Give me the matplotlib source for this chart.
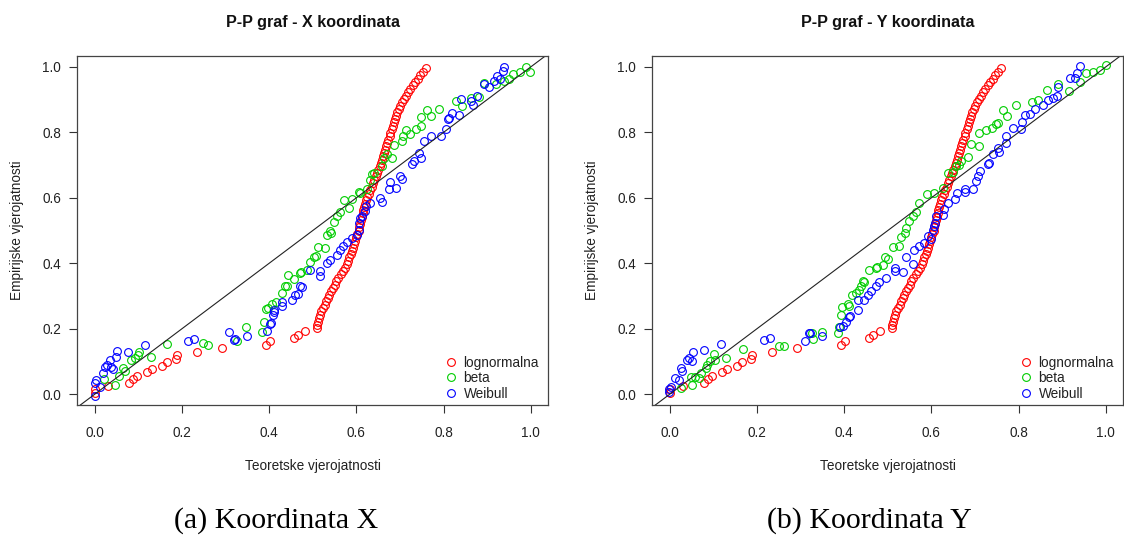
"""P-P grafovi za X i Y koordinatu: lognormalna, beta i Weibull prilagodba.

Two R-style panels side by side (open circles, y = x reference line, legend
without a frame) with LaTeX-like subfigure captions underneath. Every point is
a (teoretska, empirijska) pair read off the reference picture.
"""
import matplotlib

matplotlib.use("Agg")  # headless, file output only
import matplotlib.pyplot as plt  # noqa: E402

# ---- Koordinata X -----------------------------------------------------------
KX_LOGNORM_TEOR = [
    0.000, 0.000, 0.031, 0.079, 0.087, 0.098, 0.119, 0.131, 0.155, 0.165,
    0.186, 0.188, 0.235, 0.292, 0.392, 0.403, 0.457, 0.467, 0.483,
    0.509, 0.510, 0.512, 0.514, 0.516, 0.519, 0.523, 0.527, 0.530, 0.534,
    0.538, 0.542, 0.546, 0.550, 0.553, 0.558, 0.564, 0.569, 0.574, 0.578,
    0.581, 0.584, 0.587, 0.589, 0.592, 0.595, 0.597, 0.600, 0.602, 0.605,
    0.606, 0.608, 0.610, 0.612, 0.614, 0.616, 0.618, 0.620, 0.622, 0.625,
    0.628, 0.632, 0.635, 0.638, 0.641, 0.645, 0.648, 0.650, 0.653, 0.656,
    0.658, 0.661, 0.663, 0.666, 0.668, 0.671, 0.673, 0.676, 0.678, 0.681,
    0.683, 0.686, 0.689, 0.691, 0.694, 0.697, 0.701, 0.705, 0.709, 0.714,
    0.719, 0.724, 0.729, 0.735, 0.741, 0.746, 0.753, 0.760,
]
KX_LOGNORM_EMP = [
    0.005, 0.015, 0.025, 0.035, 0.046, 0.056, 0.067, 0.077, 0.087, 0.098,
    0.109, 0.120, 0.130, 0.141, 0.151, 0.162, 0.171, 0.182, 0.192,
    0.201, 0.211, 0.222, 0.232, 0.242, 0.253, 0.263, 0.273, 0.284, 0.294,
    0.304, 0.314, 0.325, 0.335, 0.345, 0.356, 0.366, 0.376, 0.387, 0.397,
    0.407, 0.418, 0.428, 0.438, 0.448, 0.459, 0.469, 0.479, 0.490, 0.500,
    0.510, 0.521, 0.531, 0.541, 0.552, 0.562, 0.572, 0.582, 0.593, 0.603,
    0.613, 0.624, 0.634, 0.644, 0.655, 0.665, 0.675, 0.686, 0.696, 0.706,
    0.716, 0.727, 0.737, 0.747, 0.758, 0.768, 0.778, 0.789, 0.799, 0.809,
    0.820, 0.830, 0.840, 0.851, 0.861, 0.871, 0.881, 0.892, 0.902, 0.912,
    0.923, 0.933, 0.943, 0.954, 0.964, 0.974, 0.985, 0.995,
]
KX_BETA_TEOR = [
    0.022, 0.046, 0.056, 0.065, 0.069, 0.084, 0.092, 0.100, 0.102, 0.129,
    0.166, 0.248, 0.259, 0.327, 0.347, 0.383, 0.387, 0.393, 0.397, 0.406,
    0.416, 0.429, 0.437, 0.441, 0.444, 0.456, 0.471, 0.474, 0.487, 0.494,
    0.502, 0.508, 0.513, 0.529, 0.533, 0.540, 0.542, 0.548, 0.556, 0.563,
    0.571, 0.582, 0.590, 0.605, 0.609, 0.624, 0.632, 0.636, 0.640, 0.659,
    0.663, 0.671, 0.682, 0.686, 0.705, 0.707, 0.713, 0.724, 0.736, 0.747,
    0.749, 0.762, 0.770, 0.789, 0.828, 0.843, 0.862, 0.881, 0.893, 0.920,
    0.939, 0.950, 0.958, 0.975, 0.990, 0.998,
]
KX_BETA_EMP = [
    0.046, 0.028, 0.056, 0.079, 0.072, 0.105, 0.110, 0.120, 0.130, 0.113,
    0.154, 0.156, 0.149, 0.164, 0.206, 0.189, 0.222, 0.260, 0.262, 0.274,
    0.283, 0.309, 0.329, 0.331, 0.365, 0.351, 0.370, 0.374, 0.380, 0.405,
    0.420, 0.423, 0.451, 0.446, 0.487, 0.497, 0.492, 0.527, 0.543, 0.558,
    0.594, 0.568, 0.596, 0.619, 0.616, 0.626, 0.655, 0.672, 0.675, 0.697,
    0.723, 0.733, 0.723, 0.761, 0.774, 0.789, 0.808, 0.794, 0.811, 0.820,
    0.848, 0.869, 0.850, 0.871, 0.896, 0.881, 0.906, 0.909, 0.950, 0.947,
    0.957, 0.962, 0.978, 0.985, 1.000, 0.985,
]
KX_WEIBULL_TEOR = [
    0.000, 0.000, 0.004, 0.013, 0.018, 0.023, 0.028, 0.036, 0.038, 0.042,
    0.048, 0.050, 0.077, 0.115, 0.213, 0.228, 0.308, 0.320, 0.322, 0.349,
    0.396, 0.402, 0.405, 0.408, 0.410, 0.412, 0.429, 0.429, 0.452, 0.460,
    0.465, 0.471, 0.476, 0.494, 0.516, 0.516, 0.533, 0.540, 0.556, 0.563,
    0.570, 0.579, 0.590, 0.602, 0.605, 0.605, 0.609, 0.612, 0.620, 0.622,
    0.632, 0.654, 0.659, 0.674, 0.678, 0.690, 0.701, 0.705, 0.728, 0.732,
    0.743, 0.749, 0.755, 0.770, 0.793, 0.805, 0.809, 0.813, 0.820, 0.835,
    0.839, 0.862, 0.868, 0.877, 0.893, 0.904, 0.916, 0.923, 0.929, 0.935,
    0.939,
]
KX_WEIBULL_EMP = [
    -0.005, 0.034, 0.042, 0.023, 0.066, 0.084, 0.088, 0.105, 0.082, 0.077,
    0.113, 0.132, 0.130, 0.151, 0.164, 0.169, 0.189, 0.166, 0.168, 0.179,
    0.194, 0.215, 0.218, 0.242, 0.258, 0.252, 0.270, 0.283, 0.288, 0.303,
    0.305, 0.331, 0.327, 0.378, 0.375, 0.361, 0.400, 0.410, 0.426, 0.441,
    0.452, 0.466, 0.477, 0.487, 0.502, 0.522, 0.538, 0.545, 0.560, 0.575,
    0.584, 0.599, 0.588, 0.626, 0.647, 0.631, 0.667, 0.657, 0.703, 0.712,
    0.738, 0.723, 0.774, 0.789, 0.789, 0.810, 0.840, 0.843, 0.860, 0.852,
    0.901, 0.896, 0.883, 0.911, 0.947, 0.937, 0.957, 0.972, 0.962, 0.988,
    0.998,
]

# ---- Koordinata Y -----------------------------------------------------------
# the lognormal points read the same in both panels
KY_LOGNORM_TEOR = list(KX_LOGNORM_TEOR)
KY_LOGNORM_EMP = list(KX_LOGNORM_EMP)
KY_BETA_TEOR = [
    0.025, 0.051, 0.048, 0.059, 0.067, 0.071, 0.082, 0.086, 0.092, 0.101,
    0.103, 0.130, 0.168, 0.251, 0.261, 0.327, 0.329, 0.350, 0.385, 0.389,
    0.392, 0.396, 0.408, 0.412, 0.419, 0.427, 0.433, 0.438, 0.444, 0.446,
    0.456, 0.473, 0.476, 0.488, 0.494, 0.500, 0.513, 0.526, 0.530, 0.540,
    0.542, 0.549, 0.557, 0.565, 0.572, 0.589, 0.607, 0.626, 0.637, 0.649,
    0.657, 0.664, 0.668, 0.683, 0.691, 0.709, 0.710, 0.726, 0.740, 0.749,
    0.752, 0.764, 0.773, 0.793, 0.831, 0.844, 0.864, 0.890, 0.916, 0.940,
    0.954, 0.970, 0.986, 1.000,
]
KY_BETA_EMP = [
    0.018, 0.028, 0.052, 0.052, 0.049, 0.064, 0.079, 0.090, 0.100, 0.122,
    0.103, 0.110, 0.139, 0.146, 0.148, 0.188, 0.168, 0.190, 0.187, 0.205,
    0.242, 0.265, 0.275, 0.268, 0.303, 0.309, 0.319, 0.329, 0.347, 0.343,
    0.380, 0.385, 0.388, 0.395, 0.419, 0.412, 0.449, 0.453, 0.480, 0.492,
    0.507, 0.530, 0.545, 0.558, 0.585, 0.611, 0.616, 0.631, 0.677, 0.680,
    0.698, 0.700, 0.713, 0.726, 0.764, 0.759, 0.797, 0.807, 0.812, 0.825,
    0.828, 0.869, 0.850, 0.883, 0.893, 0.899, 0.929, 0.947, 0.926, 0.955,
    0.982, 0.985, 0.990, 1.005,
]
KY_WEIBULL_TEOR = [
    -0.001, -0.002, 0.002, 0.013, 0.021, 0.025, 0.028, 0.040, 0.044, 0.050,
    0.053, 0.078, 0.117, 0.215, 0.230, 0.310, 0.320, 0.322, 0.350, 0.390,
    0.398, 0.404, 0.410, 0.413, 0.431, 0.431, 0.446, 0.454, 0.461, 0.473,
    0.479, 0.496, 0.517, 0.517, 0.534, 0.542, 0.557, 0.561, 0.571, 0.584,
    0.592, 0.598, 0.603, 0.607, 0.609, 0.611, 0.626, 0.630, 0.637, 0.655,
    0.658, 0.676, 0.676, 0.695, 0.703, 0.707, 0.712, 0.729, 0.731, 0.741,
    0.752, 0.756, 0.770, 0.772, 0.786, 0.806, 0.808, 0.814, 0.825, 0.837,
    0.856, 0.867, 0.879, 0.887, 0.890, 0.917, 0.929, 0.933, 0.940,
]
KY_WEIBULL_EMP = [
    0.008, 0.015, 0.023, 0.049, 0.044, 0.079, 0.072, 0.105, 0.110, 0.100,
    0.130, 0.135, 0.154, 0.166, 0.173, 0.164, 0.186, 0.188, 0.177, 0.205,
    0.209, 0.222, 0.237, 0.240, 0.258, 0.288, 0.288, 0.304, 0.314, 0.329,
    0.344, 0.354, 0.385, 0.375, 0.372, 0.419, 0.398, 0.441, 0.453, 0.463,
    0.484, 0.475, 0.502, 0.514, 0.524, 0.543, 0.548, 0.565, 0.583, 0.595,
    0.616, 0.619, 0.626, 0.628, 0.652, 0.667, 0.683, 0.703, 0.706, 0.733,
    0.753, 0.740, 0.789, 0.768, 0.812, 0.810, 0.830, 0.852, 0.855, 0.871,
    0.883, 0.899, 0.906, 0.911, 0.937, 0.965, 0.967, 0.981, 1.003,
]

LABELS = ["lognormalna", "beta", "Weibull"]
COLORS = ["#FF0000", "#00CD00", "#0000FF"]
TICKS = [0.0, 0.2, 0.4, 0.6, 0.8, 1.0]

SANS = ["Liberation Sans", "DejaVu Sans"]
SERIF = ["Liberation Serif", "DejaVu Serif"]

W, H = 1124, 538  # output size in pixels (dpi 100)


def _draw_panel(ax, series, title, cx):
    """One P-P panel in base-R look: open circles, abline(0, 1), bty='n' legend."""
    for (teor, emp), label, color in zip(series, LABELS, COLORS):
        ax.plot(teor, emp, ls="none", marker="o", ms=5.6, mfc="none",
                mec=color, mew=0.8, label=label)
    ax.axline((0, 0), slope=1, color="#222222", lw=0.8)

    ax.set_xlim(-0.04, 1.04)
    ax.set_ylim(-0.033, 1.034)
    ax.set_xticks(TICKS)
    ax.set_yticks(TICKS)
    ax.set_xticklabels([f"{t:.1f}" for t in TICKS], family=SANS)
    ax.set_yticklabels([f"{t:.1f}" for t in TICKS], family=SANS)
    ax.tick_params(direction="out", length=5.8, width=0.8, colors="#333333",
                   labelcolor="#222222", labelsize=9.8)
    ax.tick_params(axis="x", pad=9)
    ax.tick_params(axis="y", pad=6)
    for spine in ax.spines.values():
        spine.set_color("#444444")
        spine.set_linewidth(0.9)

    ax.legend(loc="lower left", bbox_to_anchor=(0.778, 0.012), frameon=False,
              prop={"family": SANS, "size": 9.8}, borderpad=0, handlelength=1.0,
              handletextpad=0.45, labelspacing=0.12, borderaxespad=0,
              labelcolor="#222222")

    fig = ax.figure
    fig.text(cx / W, 1 - 22 / H, title, ha="center", va="center",
             family=SANS, fontsize=11.6, fontweight="bold", color="#111111")
    fig.text(cx / W, 1 - 466 / H, "Teoretske vjerojatnosti", ha="center",
             va="center", family=SANS, fontsize=9.8, color="#222222")


def main():
    fig = plt.figure(figsize=(W / 100, H / 100), dpi=100)
    box_w, box_h = 471 / W, 349.3 / H
    bottom = 1 - 405 / H

    panels = [
        (77.3, "P-P graf - X koordinata", "(a) Koordinata X", 276,
         [(KX_LOGNORM_TEOR, KX_LOGNORM_EMP), (KX_BETA_TEOR, KX_BETA_EMP),
          (KX_WEIBULL_TEOR, KX_WEIBULL_EMP)]),
        (652.3, "P-P graf - Y koordinata", "(b) Koordinata Y", 869,
         [(KY_LOGNORM_TEOR, KY_LOGNORM_EMP), (KY_BETA_TEOR, KY_BETA_EMP),
          (KY_WEIBULL_TEOR, KY_WEIBULL_EMP)]),
    ]
    for left_px, title, caption, cap_x, series in panels:
        ax = fig.add_axes([left_px / W, bottom, box_w, box_h])
        _draw_panel(ax, series, title, left_px + 471 / 2)
        fig.text((left_px - 60) / W, 1 - 230 / H, "Empirijske vjerojatnosti",
                 rotation=90, ha="center", va="center", family=SANS,
                 fontsize=9.8, color="#222222")
        fig.text(cap_x / W, 1 - 521 / H, caption, ha="center", va="center",
                 family=SERIF, fontsize=21.5, color="black")

    fig.savefig("out.png", dpi=100)
    plt.close(fig)


if __name__ == "__main__":
    main()
